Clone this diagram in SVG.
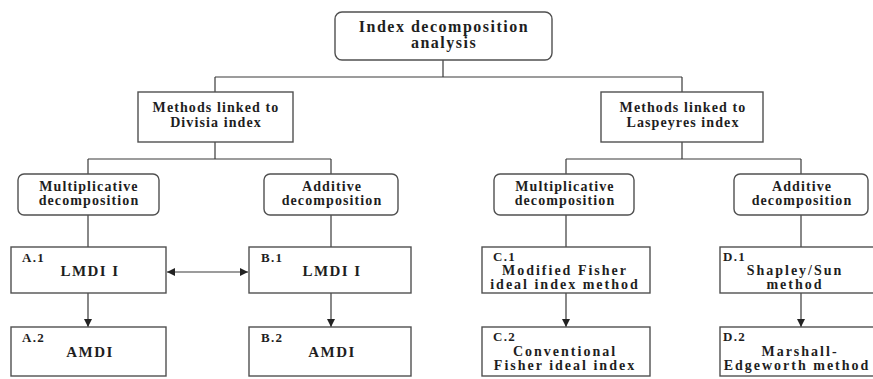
<svg xmlns="http://www.w3.org/2000/svg" width="873" height="379" viewBox="0 0 873 379">
<style>
text{font-family:"Liberation Serif","Times New Roman",serif;font-weight:bold;fill:#1e1e1e}
.t{font-size:16px;letter-spacing:1.5px;text-anchor:middle}
.m{font-size:14px;letter-spacing:1.1px;text-anchor:middle}
.c{font-size:15px;letter-spacing:1.4px;text-anchor:middle}
.d{font-size:14px;letter-spacing:2px;text-anchor:middle}
.l{font-size:13px;letter-spacing:1.3px}
.box{fill:#fff;stroke:#505050;stroke-width:1.4}
.ln{fill:none;stroke:#3a3a3a;stroke-width:1.2}
</style>
<defs>
<marker id="ah" viewBox="0 0 10 10" refX="10" refY="5" markerWidth="8" markerHeight="8" orient="auto-start-reverse" markerUnits="userSpaceOnUse">
<path d="M0,0 L10,5 L0,10 z" fill="#222"/>
</marker>
</defs>
<rect width="873" height="379" fill="#fff"/>
<g id="connectors">
<path class="ln" d="M443,60 V77 M215,77 H682 M215,77 V92 M682,77 V92"/>
<path class="ln" d="M215,142 V159 M88,159 H331 M88,159 V174 M331,159 V174"/>
<path class="ln" d="M682,142 V159 M566,159 H801 M566,159 V174 M801,159 V174"/>
<path class="ln" d="M88,215 V247 M331,215 V247 M566,215 V247 M801,215 V247"/>
<line class="ln" x1="88" y1="293" x2="88" y2="327" marker-end="url(#ah)"/>
<line class="ln" x1="331" y1="293" x2="331" y2="327" marker-end="url(#ah)"/>
<line class="ln" x1="566" y1="293" x2="566" y2="327" marker-end="url(#ah)"/>
<line class="ln" x1="801" y1="293" x2="801" y2="327" marker-end="url(#ah)"/>
<line class="ln" x1="167" y1="272" x2="248" y2="272" marker-start="url(#ah)" marker-end="url(#ah)"/>
</g>
<g id="root">
<rect class="box" x="335" y="12" width="217" height="48" rx="7"/>
<text class="t" x="444" y="32">Index decomposition</text>
<text class="t" x="444" y="48">analysis</text>
</g>
<g id="divisia">
<rect class="box" x="138" y="92" width="155" height="50"/>
<text class="m" x="216" y="112">Methods linked to</text>
<text class="m" x="216" y="127">Divisia index</text>
</g>
<g id="laspeyres">
<rect class="box" x="601" y="92" width="162" height="50"/>
<text class="m" x="683" y="112">Methods linked to</text>
<text class="m" x="683" y="127">Laspeyres index</text>
</g>
<g id="div-mult">
<rect class="box" x="18" y="174" width="141" height="41" rx="6"/>
<text class="m" x="89" y="191">Multiplicative</text>
<text class="m" x="89" y="205">decomposition</text>
</g>
<g id="div-add">
<rect class="box" x="264" y="174" width="134" height="41" rx="6"/>
<text class="m" x="332" y="191">Additive</text>
<text class="m" x="332" y="205">decomposition</text>
</g>
<g id="las-mult">
<rect class="box" x="494" y="174" width="140" height="41" rx="6"/>
<text class="m" x="565" y="191">Multiplicative</text>
<text class="m" x="565" y="205">decomposition</text>
</g>
<g id="las-add">
<rect class="box" x="734" y="174" width="134" height="41" rx="6"/>
<text class="m" x="802" y="191">Additive</text>
<text class="m" x="802" y="205">decomposition</text>
</g>
<g id="A1">
<rect class="box" x="11" y="247" width="155" height="46"/>
<text class="l" x="22" y="262">A.1</text>
<text class="c" x="90" y="276">LMDI I</text>
</g>
<g id="A2">
<rect class="box" x="11" y="327" width="155" height="49"/>
<text class="l" x="22" y="342">A.2</text>
<text class="c" x="90" y="357">AMDI</text>
</g>
<g id="B1">
<rect class="box" x="249" y="247" width="162" height="46"/>
<text class="l" x="261" y="262">B.1</text>
<text class="c" x="332" y="276">LMDI I</text>
</g>
<g id="B2">
<rect class="box" x="249" y="327" width="162" height="49"/>
<text class="l" x="261" y="342">B.2</text>
<text class="c" x="332" y="357">AMDI</text>
</g>
<g id="C1">
<rect class="box" x="482" y="247" width="168" height="46"/>
<text class="l" x="493" y="261">C.1</text>
<text class="d" x="565" y="275">Modified Fisher</text>
<text class="d" x="565" y="289">ideal index method</text>
</g>
<g id="C2">
<rect class="box" x="482" y="327" width="168" height="49"/>
<text class="l" x="493" y="341">C.2</text>
<text class="d" x="565" y="356">Conventional</text>
<text class="d" x="565" y="370">Fisher ideal index</text>
</g>
<g id="D1">
<rect class="box" x="720" y="247" width="156" height="46"/>
<text class="l" x="723" y="261">D.1</text>
<text class="d" x="795" y="275">Shapley/Sun</text>
<text class="d" x="795" y="289">method</text>
</g>
<g id="D2">
<rect class="box" x="720" y="327" width="156" height="49"/>
<text class="l" x="723" y="341">D.2</text>
<text class="d" x="800" y="356">Marshall-</text>
<text class="d" x="797" y="370">Edgeworth method</text>
</g>
</svg>
